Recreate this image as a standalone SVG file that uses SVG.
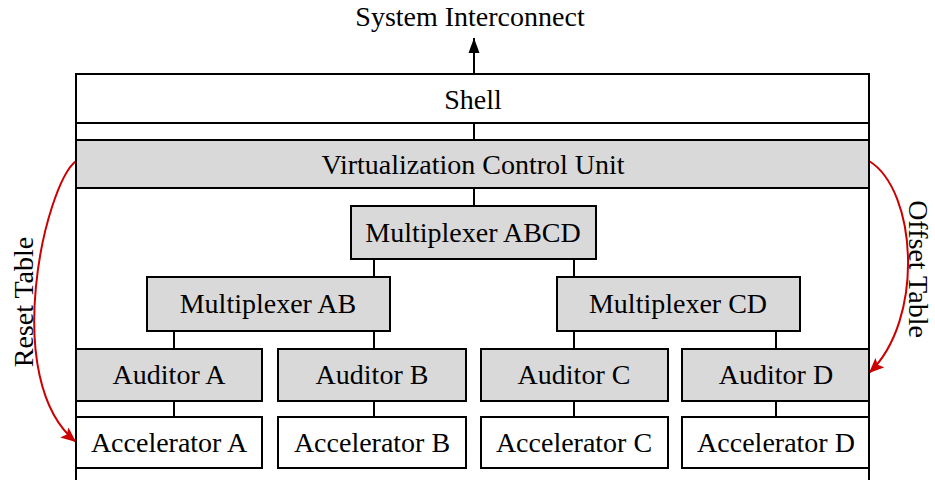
<svg xmlns="http://www.w3.org/2000/svg" width="935" height="480" viewBox="0 0 935 480">
<style>
.box{fill:#ffffff;stroke:#000;stroke-width:2}
.gray{fill:#d9d9d9;stroke:#000;stroke-width:2}
.ln{stroke:#000;stroke-width:2;fill:none}
.red{stroke:#cc0000;stroke-width:2;fill:none}
text{font-family:"Liberation Serif","Times New Roman",serif;font-size:28px;fill:#000;text-anchor:middle}
</style>
<defs>
<marker id="ab" markerWidth="16" markerHeight="12" refX="15" refY="6" orient="auto" markerUnits="userSpaceOnUse">
<path d="M0,0.5 L15,6 L0,11.5 Z" fill="#000"/>
</marker>
<marker id="ar" markerWidth="16" markerHeight="14" refX="15" refY="7" orient="auto" markerUnits="userSpaceOnUse">
<path d="M0,0.5 L15,7 L0,13.5 L3,7 Z" fill="#cc0000"/>
</marker>
</defs>
<rect width="935" height="480" fill="#fff"/>
<g id="frame">
<line class="ln" x1="76" y1="74" x2="76" y2="480"/>
<line class="ln" x1="869" y1="74" x2="869" y2="480"/>
</g>
<g id="connectors">
<line class="ln" x1="474" y1="74" x2="474" y2="38" marker-end="url(#ab)"/>
<line class="ln" x1="474" y1="123" x2="474" y2="140"/>
<line class="ln" x1="474" y1="188" x2="474" y2="206"/>
<line class="ln" x1="374" y1="259" x2="374" y2="277"/>
<line class="ln" x1="574" y1="259" x2="574" y2="277"/>
<line class="ln" x1="174" y1="331" x2="174" y2="349"/>
<line class="ln" x1="374" y1="331" x2="374" y2="349"/>
<line class="ln" x1="574" y1="331" x2="574" y2="349"/>
<line class="ln" x1="776" y1="331" x2="776" y2="349"/>
<line class="ln" x1="174" y1="401" x2="174" y2="417"/>
<line class="ln" x1="374" y1="401" x2="374" y2="417"/>
<line class="ln" x1="574" y1="401" x2="574" y2="417"/>
<line class="ln" x1="776" y1="401" x2="776" y2="417"/>
<path class="red" d="M76,161 C45,185 0,380 76,442" marker-end="url(#ar)"/>
<path class="red" d="M869,161 C917,190 925,320 869,373" marker-end="url(#ar)"/>
</g>
<g id="label-system"><text x="470" y="26">System Interconnect</text></g>
<g id="shell"><rect class="box" x="76" y="74" width="793" height="49"/><text x="473" y="109">Shell</text></g>
<g id="vcu"><rect class="gray" x="76" y="140" width="793" height="48"/><text x="473" y="174">Virtualization Control Unit</text></g>
<g id="mux-abcd"><rect class="gray" x="351" y="206" width="245" height="53"/><text x="473" y="242">Multiplexer ABCD</text></g>
<g id="mux-ab"><rect class="gray" x="147" y="277" width="243" height="54"/><text x="268" y="313">Multiplexer AB</text></g>
<g id="mux-cd"><rect class="gray" x="557" y="277" width="243" height="54"/><text x="678" y="313">Multiplexer CD</text></g>
<g id="auditor-a"><rect class="gray" x="76" y="349" width="186" height="52"/><text x="169" y="384">Auditor A</text></g>
<g id="auditor-b"><rect class="gray" x="278" y="349" width="188" height="52"/><text x="372" y="384">Auditor B</text></g>
<g id="auditor-c"><rect class="gray" x="481" y="349" width="187" height="52"/><text x="574" y="384">Auditor C</text></g>
<g id="auditor-d"><rect class="gray" x="682" y="349" width="187" height="52"/><text x="776" y="384">Auditor D</text></g>
<g id="acc-a"><rect class="box" x="76" y="417" width="186" height="51"/><text x="169" y="452">Accelerator A</text></g>
<g id="acc-b"><rect class="box" x="278" y="417" width="188" height="51"/><text x="372" y="452">Accelerator B</text></g>
<g id="acc-c"><rect class="box" x="481" y="417" width="187" height="51"/><text x="574" y="452">Accelerator C</text></g>
<g id="acc-d"><rect class="box" x="682" y="417" width="187" height="51"/><text x="776" y="452">Accelerator D</text></g>
<g id="label-reset"><text transform="translate(33,302) rotate(-90)">Reset Table</text></g>
<g id="label-offset"><text transform="translate(909,269) rotate(90)">Offset Table</text></g>
</svg>
